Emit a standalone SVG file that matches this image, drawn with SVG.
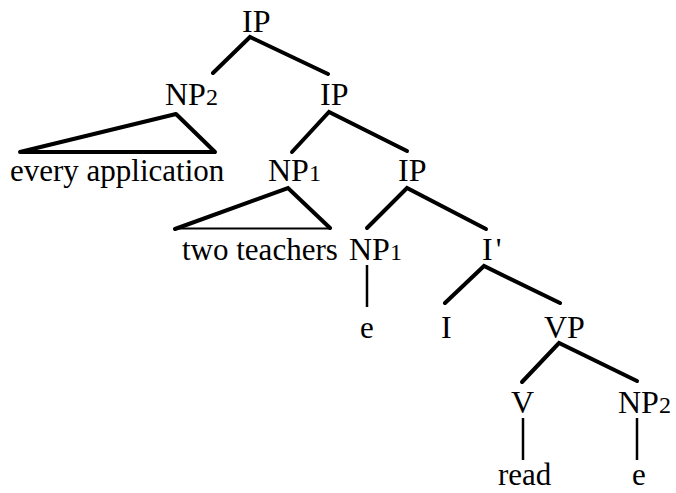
<svg xmlns="http://www.w3.org/2000/svg" width="676" height="493" viewBox="0 0 676 493">
<style>
text{font-family:"Liberation Serif","Times New Roman",serif;font-size:32px;fill:#000}
.w{font-size:31px}
.s{font-size:24px}
.br{stroke:#000;stroke-width:4;stroke-linecap:round;fill:none}
.vt{stroke:#000;stroke-width:2.5;fill:none}
.tb{stroke:#000;stroke-width:2;fill:none}
</style>
<rect width="676" height="493" fill="#fff"/>
<g id="connectors">
<path class="br" d="M213,73 L250,37 L328,74"/>
<path class="br" d="M292,152 L329,112 L407,151"/>
<path class="br" d="M367,228 L407,188 L486,229"/>
<path class="br" d="M445,303 L484,266 L560,303"/>
<path class="br" d="M522,382 L559,343 L637,381"/>
<path class="br" d="M20,152 L176,114 L215,152 Z" stroke-linejoin="round"/>
<path class="br" d="M175,229 L288,188 L330,228"/>
<path class="tb" d="M175,228.5 L330,228.5"/>
<path class="vt" d="M367,265 L367,307"/>
<path class="vt" d="M523,418 L523,460"/>
<path class="vt" d="M637,418 L637,460"/>
</g>
<g id="ip-top"><text x="242" y="32">IP</text></g>
<g id="np2-a"><text x="165" y="105">NP<tspan class="s">2</tspan></text></g>
<g id="ip-2"><text x="320" y="105">IP</text></g>
<g id="every-application"><text class="w" x="10" y="181">every application</text></g>
<g id="np1-a"><text x="268" y="181">NP<tspan class="s">1</tspan></text></g>
<g id="ip-3"><text x="398" y="181">IP</text></g>
<g id="two-teachers"><text class="w" x="182" y="260">two teachers</text></g>
<g id="np1-b"><text x="349" y="260">NP<tspan class="s">1</tspan></text></g>
<g id="i-bar"><text x="482" y="260">I<tspan dx="3">'</tspan></text></g>
<g id="e-1"><text class="w" x="360" y="338">e</text></g>
<g id="i"><text x="441" y="338">I</text></g>
<g id="vp"><text x="544" y="338">VP</text></g>
<g id="v"><text x="511" y="413">V</text></g>
<g id="np2-b"><text x="618" y="413">NP<tspan class="s">2</tspan></text></g>
<g id="read"><text class="w" x="498" y="485">read</text></g>
<g id="e-2"><text class="w" x="632" y="485">e</text></g>
</svg>
